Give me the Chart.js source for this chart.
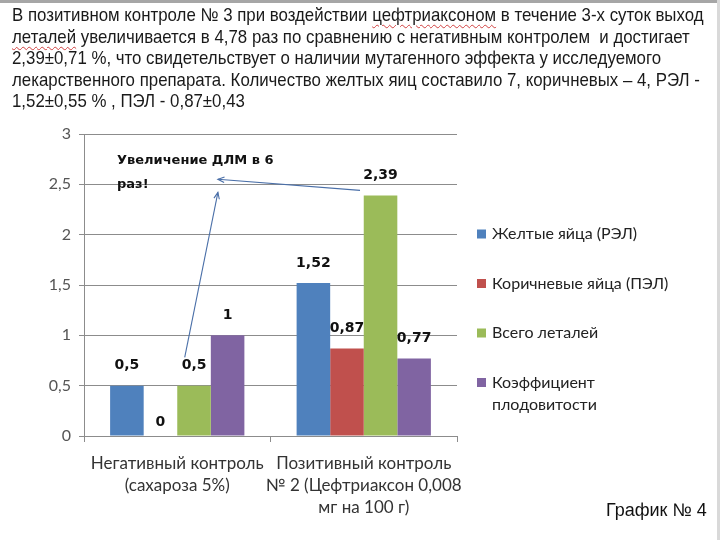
<!DOCTYPE html>
<html>
<head>
<meta charset="utf-8">
<script src="https://cdn.jsdelivr.net/npm/chart.js@4.4.1/dist/chart.umd.min.js"></script>
<style>
  html, body { margin: 0; padding: 0; background: #fff; }
  #wrap { position: relative; width: 720px; height: 540px; overflow: hidden; background: #fff; }
  #topbar { position: absolute; left: 0; top: 0; width: 720px; height: 3px; background: #a6a6a6; }
  #rightbar { position: absolute; right: 0; top: 0; width: 3px; height: 540px; background: #d9d9d9; }
  #para { position: absolute; left: 12px; top: 4px; width: 860px; font-family: "Liberation Sans", Arial, sans-serif; font-size: 18.5px; line-height: 21.5px; color: #1a1a1a; white-space: nowrap; transform: scaleX(0.91); transform-origin: 0 0; }
  .sq { text-decoration: underline wavy #d04040; text-decoration-thickness: 1px; text-underline-offset: 3px; }
  #note { position: absolute; left: 117px; top: 148px; font-family: "DejaVu Sans", sans-serif; font-weight: bold; font-size: 13px; line-height: 24px; color: #111; }
  #fig { position: absolute; left: 606px; top: 500px; font-family: "Liberation Sans", Arial, sans-serif; font-size: 18px; color: #111; }
  canvas { position: absolute; left: 0; top: 0; }
</style>
</head>
<body>
<div id="wrap">
  <canvas id="c" width="720" height="540"></canvas>
  <div id="topbar"></div>
  <div id="rightbar"></div>
  <div id="para">В позитивном контроле № 3 при воздействии <span class="sq">цефтриаксоном</span> в течение 3-х суток выход<br><span class="sq">леталей</span> увеличивается в 4,78 раз по сравнению с негативным контролем &nbsp;и достигает<br>2,39±0,71 %, что свидетельствует о наличии мутагенного эффекта у исследуемого<br>лекарственного препарата. Количество желтых яиц составило 7, коричневых – 4, РЭЛ -<br>1,52±0,55 % , ПЭЛ - 0,87±0,43</div>
  <div id="note">Увеличение ДЛМ в 6<br>раз!</div>
  <div id="fig">График № 4</div>
</div>
<script>
const categories = [
  ["Негативный контроль", "(сахароза 5%)"],
  ["Позитивный контроль", "№ 2 (Цефтриаксон 0,008", "мг на 100 г)"]
];
const seriesNames = ["Желтые яйца (РЭЛ)", "Коричневые яйца (ПЭЛ)", "Всего леталей", ["Коэффициент", "плодовитости"]];
const yellowEggs = [0.5, 1.52];
const brownEggs = [0, 0.87];
const totalLethal = [0.5, 2.39];
const fertility = [1, 0.77];
const yTicks = [0, 0.5, 1, 1.5, 2, 2.5, 3];
// arrow annotations: [category index, offset in category widths, value]
const arrows = [
  { from: [0, 0.04, 0.78], to: [0, 0.218, 2.42] },
  { from: [1, -0.02, 2.44], to: [0, 0.218, 2.55] }
];

const colors = ["#4F81BD", "#C0504D", "#9BBB59", "#8064A2"];
const fmt = v => String(v).replace('.', ',');

const valueLabels = {
  id: 'valueLabels',
  afterDatasetsDraw(chart) {
    const ctx = chart.ctx;
    ctx.save();
    ctx.font = 'bold 14px "DejaVu Sans", sans-serif';
    ctx.fillStyle = '#111';
    ctx.textAlign = 'center';
    ctx.textBaseline = 'middle';
    chart.data.datasets.forEach((ds, i) => {
      const meta = chart.getDatasetMeta(i);
      meta.data.forEach((bar, j) => {
        const v = ds.data[j];
        const off = v === 0 ? 14 : 20;
        ctx.fillText(fmt(v), bar.x, bar.y - off);
      });
    });
    ctx.restore();
  }
};

const arrowPlugin = {
  id: 'arrows',
  afterDatasetsDraw(chart) {
    const xs = chart.scales.x, ys = chart.scales.y;
    const cw = xs.getPixelForValue(1) - xs.getPixelForValue(0);
    const pt = p => [xs.getPixelForValue(p[0]) + p[1] * cw, ys.getPixelForValue(p[2])];
    const ctx = chart.ctx;
    ctx.save();
    ctx.strokeStyle = '#4A6FA8';
    ctx.lineWidth = 1.1;
    arrows.forEach(a => {
      const [x1, y1] = pt(a.from), [x2, y2] = pt(a.to);
      ctx.beginPath(); ctx.moveTo(x1, y1); ctx.lineTo(x2, y2); ctx.stroke();
      const ang = Math.atan2(y2 - y1, x2 - x1), L = 7, w = 0.4;
      ctx.beginPath();
      ctx.moveTo(x2 - L * Math.cos(ang - w), y2 - L * Math.sin(ang - w));
      ctx.lineTo(x2, y2);
      ctx.lineTo(x2 - L * Math.cos(ang + w), y2 - L * Math.sin(ang + w));
      ctx.stroke();
    });
    ctx.restore();
  }
};

const legendPlugin = {
  id: 'sideLegend',
  afterDraw(chart) {
    const ctx = chart.ctx;
    const x0 = chart.chartArea.right + 20;
    ctx.save();
    ctx.font = '16px Lato, sans-serif';
    ctx.textBaseline = 'middle';
    chart.data.datasets.forEach((ds, i) => {
      const y = 234 + i * 49.5;
      ctx.fillStyle = ds.backgroundColor;
      ctx.fillRect(x0, y - 4.5, 9, 9);
      ctx.fillStyle = '#222';
      const lines = Array.isArray(ds.label) ? ds.label : [ds.label];
      lines.forEach((t, k) => ctx.fillText(t, x0 + 15, y + k * 22));
    });
    ctx.restore();
  }
};

new Chart(document.getElementById('c'), {
  type: 'bar',
  data: {
    labels: categories,
    datasets: [
      { label: seriesNames[0], data: yellowEggs, backgroundColor: colors[0] },
      { label: seriesNames[1], data: brownEggs, backgroundColor: colors[1] },
      { label: seriesNames[2], data: totalLethal, backgroundColor: colors[2] },
      { label: seriesNames[3], data: fertility, backgroundColor: colors[3] }
    ]
  },
  options: {
    responsive: false,
    animation: false,
    devicePixelRatio: 1,
    layout: { padding: { left: 0, top: 134, right: 263, bottom: 0 } },
    datasets: { bar: { categoryPercentage: 0.72, barPercentage: 1.0, borderWidth: 0 } },
    plugins: { legend: { display: false }, tooltip: { enabled: false } },
    scales: {
      x: {
        afterFit: s => { s.height = 104; },
        grid: { drawOnChartArea: false, offset: true, tickLength: 6, color: '#8c8c8c' },
        border: { color: '#8c8c8c' },
        ticks: { padding: 10, maxRotation: 0, minRotation: 0, autoSkip: false, color: '#333', font: { family: 'Lato, sans-serif', size: 17, lineHeight: 1.3 } }
      },
      y: {
        min: 0, max: 3,
        afterFit: s => { s.width = 84; },
        afterBuildTicks: s => { s.ticks = yTicks.map(v => ({ value: v })); },
        grid: { color: '#8c8c8c', tickLength: 5 },
        border: { color: '#8c8c8c' },
        ticks: { padding: 8, color: '#555', font: { family: 'Lato, sans-serif', size: 16 }, callback: v => fmt(v) }
      }
    }
  },
  plugins: [valueLabels, arrowPlugin, legendPlugin]
});
</script>
</body>
</html>
